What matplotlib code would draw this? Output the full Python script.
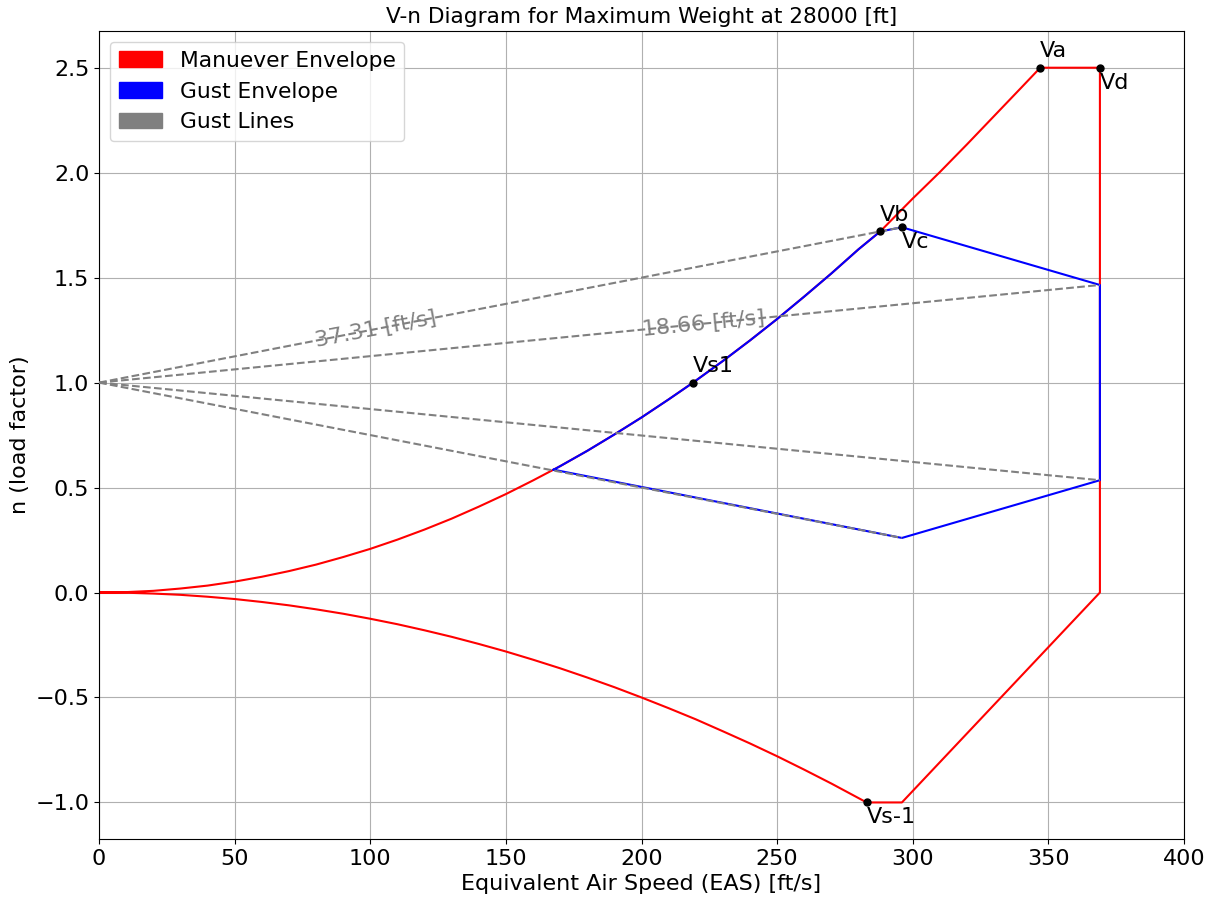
import numpy as np
import matplotlib.pyplot as plt
import matplotlib.patches as mpatches

plt.rc('font', size=16)

# positive stall curve
v_pos = [0, 10, 20, 30, 40, 50, 60, 70, 80, 90, 100, 110, 120, 130, 140, 150, 160,
         170, 180, 190, 200, 210, 219, 230, 240, 250, 260, 270, 280, 288, 300, 310,
         320, 330, 340, 347]
n_pos = [0, 0.002, 0.008, 0.019, 0.033, 0.052, 0.075, 0.102, 0.133, 0.169, 0.208,
         0.252, 0.30, 0.352, 0.409, 0.469, 0.534, 0.602, 0.675, 0.753, 0.834, 0.92,
         1.0, 1.103, 1.201, 1.303, 1.41, 1.52, 1.635, 1.72, 1.877, 2.003, 2.135,
         2.27, 2.405, 2.5]
# negative stall curve
v_neg = [0, 10, 20, 30, 40, 50, 60, 70, 80, 90, 100, 110, 120, 130, 140, 150, 160,
         170, 180, 190, 200, 210, 220, 230, 240, 250, 260, 270, 283]
n_neg = [0, -0.001, -0.005, -0.011, -0.02, -0.031, -0.045, -0.061, -0.08, -0.101,
         -0.125, -0.151, -0.18, -0.211, -0.245, -0.281, -0.32, -0.361, -0.405,
         -0.451, -0.5, -0.551, -0.604, -0.661, -0.719, -0.78, -0.844, -0.91, -1.0]

# remaining maneuver envelope corners: Va -> Vd -> (Vd, 0) -> (Vc, -1) -> Vs-1
v_man = [347, 369, 369, 296, 283]
n_man = [2.5, 2.5, 0.0, -1.0, -1.0]

# gust envelope
v_gust = [167.6, 170, 180, 190, 200, 210, 219, 230, 240, 250, 260, 270, 280, 288,
          296, 369, 369, 296, 167.6]
n_gust = [0.585, 0.602, 0.675, 0.753, 0.834, 0.92, 1.0, 1.103, 1.201, 1.303, 1.41,
          1.52, 1.635, 1.72, 1.74, 1.465, 0.535, 0.26, 0.585]

# gust lines from (0, 1)
gust_end_v = [296, 296, 369, 369]
gust_end_n = [1.74, 0.26, 1.465, 0.535]
gust_labels = ['37.31 [ft/s]', '18.66 [ft/s]']
gust_label_v = [102, 223]

# marked speeds
pt_names = ['Vs1', 'Vb', 'Vc', 'Va', 'Vd', 'Vs-1']
pt_v = [219, 288, 296, 347, 369, 283]
pt_n = [1.0, 1.72, 1.74, 2.5, 2.5, -1.0]
pt_off = [(0, 7.5), (0, 7.5), (0, -15), (0, 7.5), (0, -15), (0, -15)]

fig, ax = plt.subplots(figsize=(12.11, 8.98), dpi=100)
fig.subplots_adjust(left=0.0818, right=0.9777, top=0.9655, bottom=0.0655)
ax.set_xlim(0, 400)
ax.set_ylim(-1.175, 2.675)

man_v = v_pos + v_man + v_neg[::-1]
man_n = n_pos + n_man + n_neg[::-1]
ax.plot(man_v, man_n, color='red', lw=1.5, zorder=2)
ax.plot(v_gust, n_gust, color='blue', lw=1.5, zorder=3)

for i in range(len(gust_end_v)):
    ax.plot([0, gust_end_v[i]], [1, gust_end_n[i]], '--', color='gray', lw=1.5, zorder=4)

# gust line labels, rotated along the upper lines
for i, lab in enumerate(gust_labels):
    ve, ne = gust_end_v[2 * i], gust_end_n[2 * i]
    vl = gust_label_v[i]
    nl = 1 + (ne - 1) * vl / ve
    p1 = ax.transData.transform((0, 1))
    p2 = ax.transData.transform((ve, ne))
    ang = np.degrees(np.arctan2(p2[1] - p1[1], p2[0] - p1[0]))
    ax.text(vl, nl, lab, color='gray', rotation=ang, rotation_mode='anchor',
            ha='center', va='center', fontsize=16, zorder=5)

ax.plot(pt_v, pt_n, 'o', color='black', ms=5, zorder=6)
for i in range(len(pt_names)):
    ax.annotate(pt_names[i], (pt_v[i], pt_n[i]), xytext=pt_off[i],
                textcoords='offset points', fontsize=16)

ax.grid(True)
ax.set_xlabel('Equivalent Air Speed (EAS) [ft/s]')
ax.set_ylabel('n (load factor)')
ax.set_title('V-n Diagram for Maximum Weight at 28000 [ft]', fontsize=15.6)

handles = [mpatches.Patch(color='red', label='Manuever Envelope'),
           mpatches.Patch(color='blue', label='Gust Envelope'),
           mpatches.Patch(color='gray', label='Gust Lines')]
ax.legend(handles=handles, loc='upper left', fontsize=15.7)

plt.savefig('out.png')
